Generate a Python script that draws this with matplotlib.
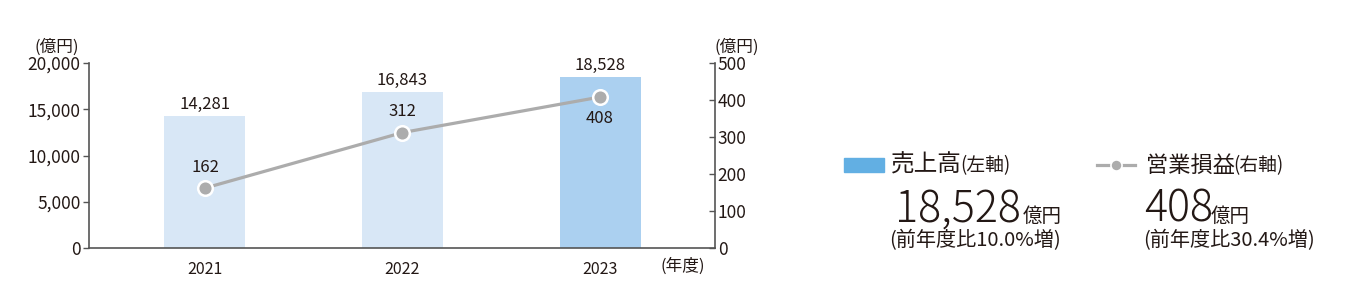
import matplotlib
matplotlib.use("Agg")
import matplotlib.pyplot as plt
from matplotlib.patches import Rectangle
from matplotlib.lines import Line2D

plt.rcParams['font.family'] = ['Noto Sans CJK JP', 'DejaVu Sans']

years = ["2021", "2022", "2023"]
sales = [14281, 16843, 18528]
profit = [162, 312, 408]
sales_labels = ["14,281", "16,843", "18,528"]
profit_labels = ["162", "312", "408"]
left_ticks = [0, 5000, 10000, 15000, 20000]
right_ticks = [0, 100, 200, 300, 400, 500]

W, H = 1360, 307
bar_colors = ["#d8e7f6", "#d8e7f6", "#abd0f0"]
line_color = "#acacac"
text_color = "#231815"
spine_color = "#555555"

def fx(x):
    return x / W

def fy(y):
    return 1 - y / H

fig = plt.figure(figsize=(W / 100, H / 100), dpi=100)
ax = fig.add_axes([fx(89), fy(248), fx(715) - fx(89), fy(63) - fy(248)])
xs = list(range(len(years)))

ax.bar(xs, sales, width=0.41, color=bar_colors, zorder=1)
ax.set_ylim(0, 20000)
ax.set_xlim(-0.587, 2.582)
ax.set_yticks(left_ticks)
ax.set_yticklabels([f"{v:,}" for v in left_ticks])
ax.set_xticks(xs)
ax.set_xticklabels(years)
ax.tick_params(axis="y", direction="out", length=4, width=1, color=spine_color,
               labelsize=12.5, labelcolor=text_color, pad=2)
ax.tick_params(axis="x", length=0, labelsize=11.5, labelcolor=text_color, pad=9)
for s in ["top", "right"]:
    ax.spines[s].set_visible(False)
for s in ["left", "bottom"]:
    ax.spines[s].set_color(spine_color)
    ax.spines[s].set_linewidth(1.2)

for x, v, lab in zip(xs, sales, sales_labels):
    ax.annotate(lab, (x, v), xytext=(0, 2), textcoords="offset points",
                ha="center", va="bottom", fontsize=12, color=text_color)

ax2 = ax.twinx()
ax2.set_ylim(0, 500)
ax2.set_yticks(right_ticks)
ax2.plot(xs, profit, color=line_color, lw=2.3, marker="o", markersize=10.5,
         markerfacecolor=line_color, markeredgecolor="white", markeredgewidth=1.8,
         zorder=3)
for s in ["top", "left", "bottom"]:
    ax2.spines[s].set_visible(False)
ax2.spines["right"].set_color(spine_color)
ax2.spines["right"].set_linewidth(1.2)
ax2.tick_params(axis="y", direction="in", length=4, width=1, color=spine_color,
                labelsize=12.5, labelcolor=text_color, pad=2)

offsets = [(0, 9), (0, 9), (0, -9)]
for x, v, lab, off in zip(xs, profit, profit_labels, offsets):
    ax2.annotate(lab, (x, v), xytext=off, textcoords="offset points",
                 ha="center", va="bottom" if off[1] > 0 else "top",
                 fontsize=12, color=text_color)

fig.text(fx(35), fy(47), "(億円)", fontsize=12, color=text_color, va="center")
fig.text(fx(715), fy(47), "(億円)", fontsize=12, color=text_color, va="center")
fig.text(fx(661), fy(266), "(年度)", fontsize=12, color=text_color, va="center")

# legend block
fig.patches.append(Rectangle((fx(844), fy(172)), fx(40), fy(158) - fy(172),
                             transform=fig.transFigure, color="#62afe3"))
fig.text(fx(891), fy(165), "売上高", fontsize=17, color=text_color, va="center")
fig.text(fx(960), fy(166), "(左軸)", fontsize=13.5, color=text_color, va="center")
fig.text(fx(895), fy(222), "18,528", fontsize=31, fontweight="light",
         color=text_color, va="baseline")
fig.text(fx(1023), fy(222), "億円", fontsize=14, color=text_color, va="baseline")
fig.text(fx(889), fy(241), "(前年度比10.0%増)", fontsize=14.5, color=text_color, va="center")

fig.lines.append(Line2D([fx(1097), fx(1135)], [fy(165), fy(165)], transform=fig.transFigure,
                        color=line_color, lw=2.3))
fig.lines.append(Line2D([fx(1116)], [fy(165)], transform=fig.transFigure, color=line_color,
                        marker="o", markersize=8, markeredgecolor="white", markeredgewidth=1.2))
fig.text(fx(1146), fy(165), "営業損益", fontsize=16, color=text_color, va="center")
fig.text(fx(1233), fy(166), "(右軸)", fontsize=13.5, color=text_color, va="center")
fig.text(fx(1144), fy(222), "408", fontsize=31, fontweight="light",
         color=text_color, va="baseline")
fig.text(fx(1211), fy(222), "億円", fontsize=14, color=text_color, va="baseline")
fig.text(fx(1143), fy(241), "(前年度比30.4%増)", fontsize=14.5, color=text_color, va="center")

fig.savefig("out.png", dpi=100)
